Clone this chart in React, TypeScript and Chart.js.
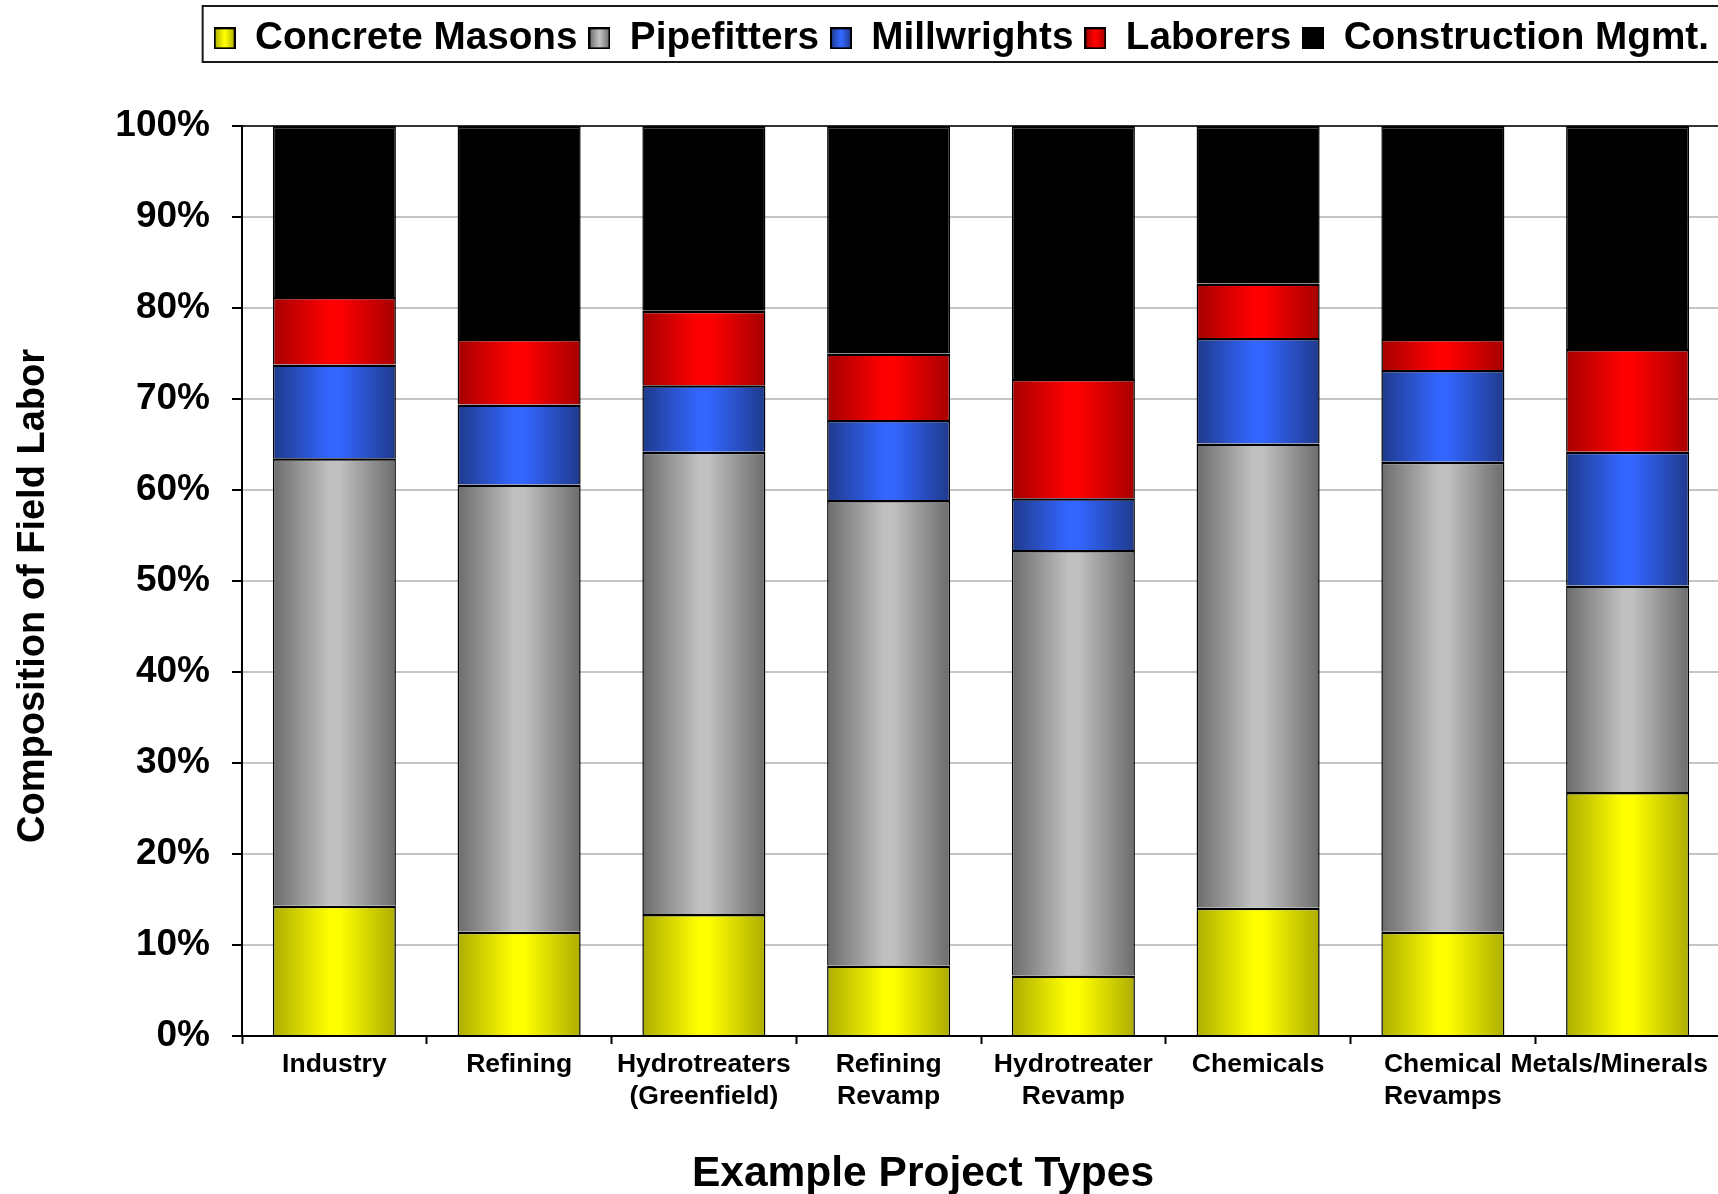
import React, { useEffect, useRef } from 'react';
import { Chart, registerables } from 'chart.js';

Chart.register(...registerables);

// ---------- data ----------
const categories: (string | string[])[] = [
  'Industry',
  'Refining',
  ['Hydrotreaters', '(Greenfield)'],
  ['Refining', 'Revamp'],
  ['Hydrotreater', 'Revamp'],
  'Chemicals',
  ['Chemical', 'Revamps'],
  'Metals/Minerals',
];
const seriesNames = ['Concrete Masons', 'Pipefitters', 'Millwrights', 'Laborers', 'Construction Mgmt.'];
const concreteMasons = [14.3, 11.45, 13.4, 7.75, 6.65, 14.1, 11.45, 26.8];
const pipefitters = [49.2, 49.15, 50.8, 51.15, 46.75, 51.0, 51.65, 22.7];
const millwrights = [10.3, 8.8, 7.3, 8.8, 5.7, 11.6, 10.1, 14.7];
const laborers = [7.4, 7.2, 8.2, 7.3, 13.1, 6.0, 3.4, 11.3];
const constructionMgmt = [18.8, 23.4, 20.3, 25.0, 27.8, 17.3, 23.4, 24.5];
const yMin = 0;
const yMax = 100;
const yStep = 10;
const xTitle = 'Example Project Types';
const yTitle = 'Composition of Field Labor';

// ---------- styles ----------
const FONT = '"Liberation Sans", Arial, Helvetica, sans-serif';
const palettes = [
  { dark: '#adad00', bright: '#ffff00' },
  { dark: '#6c6c6c', bright: '#c0c0c0' },
  { dark: '#1f3a8c', bright: '#3366ff' },
  { dark: '#a60000', bright: '#ff0000' },
  { dark: '#000000', bright: '#000000' },
];
const BAR_PCT = 0.666;
const CANVAS_W = 1726;
const CANVAS_H = 1194;

function addStops(g: CanvasGradient, dark: string, bright: string) {
  g.addColorStop(0, dark);
  g.addColorStop(0.46, bright);
  g.addColorStop(0.54, bright);
  g.addColorStop(1, dark);
}

function barGradient(idx: number) {
  const { dark, bright } = palettes[idx];
  return (c: any) => {
    if (dark === bright) return bright;
    const chart = c.chart;
    const xs = chart.scales && chart.scales.x;
    if (!xs || c.type !== 'data' || !(xs.width > 0)) return bright;
    const center = xs.getPixelForValue(c.dataIndex);
    const half = (xs.width / categories.length) * BAR_PCT / 2;
    if (!isFinite(center)) return bright;
    const g = chart.ctx.createLinearGradient(center - half, 0, center + half, 0);
    addStops(g, dark, bright);
    return g;
  };
}

function makeSwatch(idx: number) {
  const { dark, bright } = palettes[idx];
  const c = document.createElement('canvas');
  c.width = 22;
  c.height = 22;
  const g = c.getContext('2d') as CanvasRenderingContext2D;
  const gr = g.createLinearGradient(1, 0, 21, 0);
  addStops(gr, dark, bright);
  g.fillStyle = gr;
  g.fillRect(0, 0, 22, 22);
  g.strokeStyle = '#000';
  g.lineWidth = 2;
  g.strokeRect(1, 1, 20, 20);
  return c;
}

const legendPatch = {
  id: 'legendPatch',
  beforeLayout(chart: any) {
    const lg = chart.legend;
    if (lg && !lg.__patched) {
      const orig = lg.fit;
      lg.fit = function () {
        orig.call(this);
        this.height = 118;
      };
      lg.__patched = true;
    }
  },
  afterDraw(chart: any) {
    const lg = chart.legend;
    const ctx = chart.ctx;
    if (lg && lg.legendHitBoxes && lg.legendHitBoxes.length) {
      const first = lg.legendHitBoxes[0];
      const left = first.left - 11;
      ctx.save();
      ctx.strokeStyle = '#1a1a1a';
      ctx.lineWidth = 2;
      ctx.strokeRect(left, 6, chart.width - left + 5, 56);
      ctx.restore();
    }
    // axis titles
    const area = chart.chartArea;
    ctx.save();
    ctx.fillStyle = '#000';
    ctx.textAlign = 'center';
    ctx.textBaseline = 'alphabetic';
    ctx.font = `bold 42.5px ${FONT}`;
    ctx.fillText(xTitle, area.left + 681, area.bottom + 150);
    ctx.translate(44, (area.top + area.bottom) / 2 + 15);
    ctx.rotate(-Math.PI / 2);
    ctx.font = `bold 38px ${FONT}`;
    ctx.fillText(yTitle, 0, 0);
    ctx.restore();
  },
};

export default function App() {
  const ref = useRef<HTMLCanvasElement | null>(null);

  useEffect(() => {
    if (!ref.current) return;
    const seriesValues = [concreteMasons, pipefitters, millwrights, laborers, constructionMgmt];
    const swatches = seriesNames.map((_, i) => makeSwatch(i));
    const chart = new Chart(ref.current, {
      type: 'bar',
      data: {
        labels: categories as any,
        datasets: seriesNames.map((name, i) => ({
          label: name,
          data: seriesValues[i],
          backgroundColor: barGradient(i) as any,
          borderColor: '#000',
          borderWidth: { top: 2.5, left: 1.5, right: 1.5, bottom: 0 } as any,
          borderSkipped: false,
          barPercentage: BAR_PCT,
          categoryPercentage: 1,
        })),
      },
      options: {
        responsive: false,
        animation: false,
        devicePixelRatio: 1,
        layout: { padding: { top: 8, right: 6, left: 0, bottom: 0 } },
        plugins: {
          tooltip: { enabled: false },
          legend: {
            display: true,
            position: 'top',
            align: 'end',
            labels: {
              usePointStyle: true,
              pointStyleWidth: 22,
              padding: 11,
              color: '#000',
              font: { size: 38.7, weight: 'bold', family: FONT },
              generateLabels: (ch: any) => {
                const items = (Chart.defaults.plugins.legend.labels as any).generateLabels(ch);
                return items.map((it: any, i: number) => ({ ...it, pointStyle: swatches[i], fontColor: '#000' }));
              },
            },
          },
        },
        scales: {
          x: {
            stacked: true,
            offset: true,
            grid: {
              offset: true,
              drawOnChartArea: false,
              drawTicks: true,
              tickLength: 8,
              tickWidth: 2,
              tickColor: '#000',
            },
            border: { color: '#000', width: 2 },
            ticks: {
              color: '#000',
              font: { size: 26.5, weight: 'bold', family: FONT, lineHeight: 1.2 },
              maxRotation: 0,
              minRotation: 0,
              autoSkip: false,
              padding: 5,
              // the last label is kept inside the picture's right edge, as in the original
              callback: function (this: any, v: any, i: number) {
                const lab = this.getLabelForValue(v);
                return i === categories.length - 1 && typeof lab === 'string' ? lab + '     ' : lab;
              },
            },
            afterFit: (s: any) => {
              s.height = 158;
              s.paddingLeft = 0;
              s.paddingRight = 0;
            },
          },
          y: {
            stacked: true,
            min: yMin,
            max: yMax,
            grid: {
              color: (c: any) => (c.tick && (c.tick.value === yMax || c.tick.value === yMin) ? '#333' : '#c4c4c4'),
              lineWidth: 2,
              tickLength: 10,
              tickWidth: 2,
              tickColor: '#000',
            },
            border: { color: '#000', width: 2 },
            ticks: {
              stepSize: yStep,
              color: '#000',
              padding: 22,
              font: { size: 37, weight: 'bold', family: FONT },
              callback: (v: any) => `${v}%`,
            },
            afterFit: (s: any) => {
              s.width = 242;
            },
          },
        },
      },
      plugins: [legendPatch],
    });
    return () => chart.destroy();
  }, []);

  return (
    <div
      style={{
        position: 'fixed',
        left: 0,
        top: 0,
        width: 1718,
        height: CANVAS_H,
        overflow: 'hidden',
        background: '#fff',
      }}
    >
      <canvas ref={ref} width={CANVAS_W} height={CANVAS_H} style={{ display: 'block' }} />
    </div>
  );
}
